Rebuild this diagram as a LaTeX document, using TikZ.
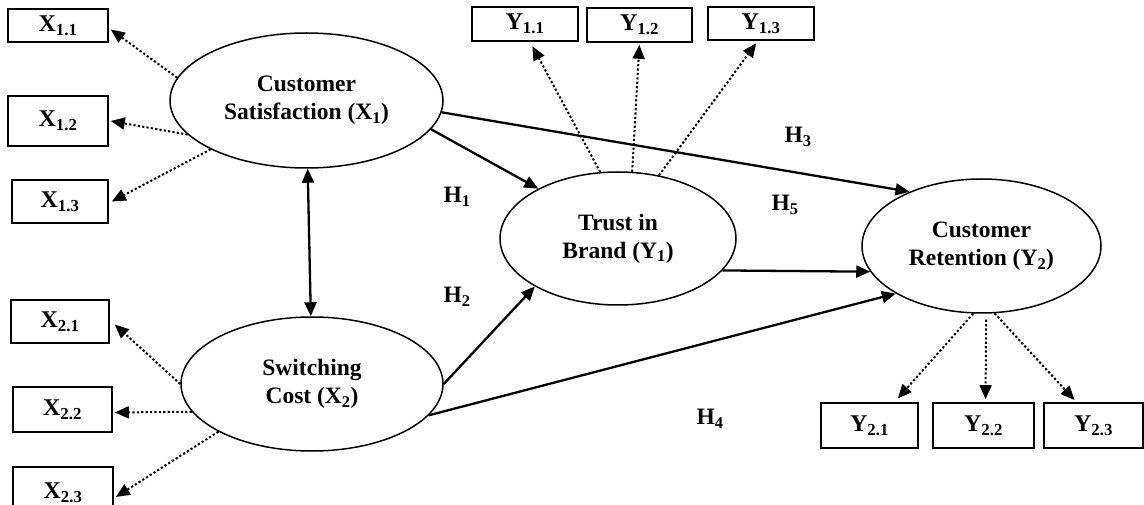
\documentclass[tikz,border=0pt]{standalone}
\usepackage{fontspec}
\setmainfont{Liberation Serif}
\usetikzlibrary{shapes.geometric,arrows.meta}
\begin{document}
\begin{tikzpicture}[x=1pt,y=-1pt,
  font=\fontsize{23.5}{28}\selectfont\bfseries,
  lat/.style={ellipse,draw,line width=1.5pt,inner sep=0pt,align=center},
  ind/.style={draw,line width=1.6pt,inner sep=0pt,font=\fontsize{24}{28}\selectfont\bfseries},
  tipend/.style={-{Triangle[length=14pt,width=12pt]}},
  load/.style={tipend,line width=2pt,dash pattern=on 2.2pt off 2.2pt},
  effect/.style={tipend,line width=2.3pt},
  hyp/.style={inner sep=0pt}
]
\useasboundingbox (0,0) rectangle (1144,505);

% latent variables
\node[lat,minimum width=273pt,minimum height=135pt] (X1) at (306.5,100.5) {Customer\\Satisfaction (X\textsubscript{1})};
\node[lat,minimum width=262pt,minimum height=134pt] (X2) at (312,384) {Switching\\Cost (X\textsubscript{2})};
\node[lat,minimum width=236pt,minimum height=133pt] (T) at (618,238.5) {Trust in\\Brand (Y\textsubscript{1})};
\node[lat,minimum width=239pt,minimum height=134pt] (R) at (981.5,246) {Customer\\Retention (Y\textsubscript{2})};

% indicators
\node[ind,minimum width=100pt,minimum height=33pt] (x11) at (58,25.5) {X\textsubscript{1.1}};
\node[ind,minimum width=100pt,minimum height=50pt] (x12) at (58,121) {X\textsubscript{1.2}};
\node[ind,minimum width=96pt,minimum height=43pt] (x13) at (60,201.5) {X\textsubscript{1.3}};
\node[ind,minimum width=98pt,minimum height=43pt] (x21) at (60,321.5) {X\textsubscript{2.1}};
\node[ind,minimum width=99pt,minimum height=45pt] (x22) at (62.5,409.5) {X\textsubscript{2.2}};
\node[ind,minimum width=100pt,minimum height=52pt] (x23) at (63,493) {X\textsubscript{2.3}};
\node[ind,minimum width=106pt,minimum height=34pt] (y11) at (525,24) {Y\textsubscript{1.1}};
\node[ind,minimum width=105pt,minimum height=34pt] (y12) at (639.5,25) {Y\textsubscript{1.2}};
\node[ind,minimum width=106pt,minimum height=33pt] (y13) at (761,23.5) {Y\textsubscript{1.3}};
\node[ind,minimum width=97pt,minimum height=45pt] (y21) at (869.5,425.5) {Y\textsubscript{2.1}};
\node[ind,minimum width=101pt,minimum height=45pt] (y22) at (983.5,425.5) {Y\textsubscript{2.2}};
\node[ind,minimum width=99pt,minimum height=45pt] (y23) at (1093.5,425.5) {Y\textsubscript{2.3}};

% hypothesis labels
\node[hyp] (h1) at (457,197) {H\textsubscript{1}};
\node[hyp] (h2) at (457,297) {H\textsubscript{2}};
\node[hyp] (h3) at (798,137) {H\textsubscript{3}};
\node[hyp] (h4) at (710,419) {H\textsubscript{4}};
\node[hyp] (h5) at (785,205) {H\textsubscript{5}};

% loadings
\draw[load] (X1.170) -- ([shift={(2pt,-4pt)}]x11.east);
\draw[load] (X1.196) -- ([xshift=2pt]x12.east);
\draw[load] (X1.207) -- ([xshift=3pt]x13.east);
\draw[load] (X2.180) -- ([shift={(5pt,-3pt)}]x21.east);
\draw[load] (X2.193) -- ([shift={(2pt,-3pt)}]x22.east);
\draw[load] (X2.207) -- ([shift={(2pt,-4pt)}]x23.east);
\draw[load,shorten >=5pt] (T.105) -- ([xshift=5pt]y11.south);
\draw[load,shorten >=2pt] (T.78) -- (y12.south);
\draw[load,shorten >=3pt] (T.57) -- ([xshift=-3pt]y13.south);
\draw[load,shorten >=5pt] (R.263) -- ([xshift=25pt]y21.north);
\draw[load,shorten <=6pt,shorten >=3pt] (R.274) -- ([xshift=2pt]y22.north);
\draw[load,shorten >=3pt] (R.281) -- ([xshift=-17pt]y23.north);

% structural paths
\draw[line width=2.3pt,{Triangle[length=14pt,width=12pt]}-{Triangle[length=14pt,width=12pt]}] (X1.-89) -- (X2.91);
\draw[effect] (X1.-13) -- (T.148);
\draw[effect] (X1.-5) -- (R.143);
\draw[effect] (T.-17) -- (R.193.5);
\draw[effect] (X2.east) -- (T.210);
\draw[effect] (X2.-15) -- (R.209);
\end{tikzpicture}
\end{document}
